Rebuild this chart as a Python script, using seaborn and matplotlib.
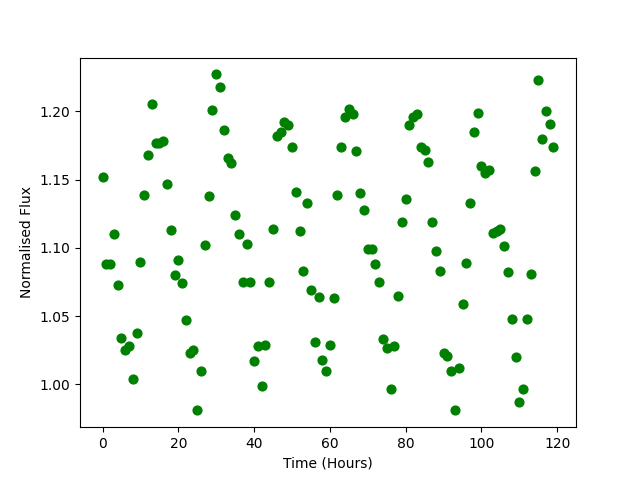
import numpy as np
import pandas as pd
import matplotlib
matplotlib.use("Agg")
import matplotlib.pyplot as plt
import seaborn as sns

# Time in hours, one reading per hour
hours = list(range(120))

# Normalised flux values
flux = [
    1.152, 1.088, 1.088, 1.110, 1.073, 1.034, 1.025, 1.028, 1.004, 1.038,
    1.090, 1.139, 1.168, 1.205, 1.177, 1.177, 1.178, 1.147, 1.113, 1.080,
    1.091, 1.074, 1.047, 1.023, 1.025, 0.981, 1.010, 1.102, 1.138, 1.201,
    1.227, 1.218, 1.186, 1.166, 1.162, 1.124, 1.110, 1.075, 1.103, 1.075,
    1.017, 1.028, 0.999, 1.029, 1.075, 1.114, 1.182, 1.185, 1.192, 1.190,
    1.174, 1.141, 1.112, 1.083, 1.133, 1.069, 1.031, 1.064, 1.018, 1.010,
    1.029, 1.063, 1.139, 1.174, 1.196, 1.202, 1.198, 1.171, 1.140, 1.128,
    1.099, 1.099, 1.088, 1.075, 1.033, 1.027, 0.997, 1.028, 1.065, 1.119,
    1.136, 1.190, 1.196, 1.198, 1.174, 1.172, 1.163, 1.119, 1.098, 1.083,
    1.023, 1.021, 1.010, 0.981, 1.012, 1.059, 1.089, 1.133, 1.185, 1.199,
    1.160, 1.155, 1.157, 1.111, 1.112, 1.114, 1.101, 1.082, 1.048, 1.020,
    0.987, 0.997, 1.048, 1.081, 1.156, 1.223, 1.180, 1.200, 1.191, 1.174,
]

df = pd.DataFrame({"Time (Hours)": hours, "Normalised Flux": flux})

fig, ax = plt.subplots(figsize=(6.4, 4.8), dpi=100)
sns.scatterplot(data=df, x="Time (Hours)", y="Normalised Flux", ax=ax,
                color="green", edgecolor="green", s=40, linewidth=1)
ax.set_xlabel("Time (Hours)")
ax.set_ylabel("Normalised Flux")

fig.savefig("out.png", dpi=100)
